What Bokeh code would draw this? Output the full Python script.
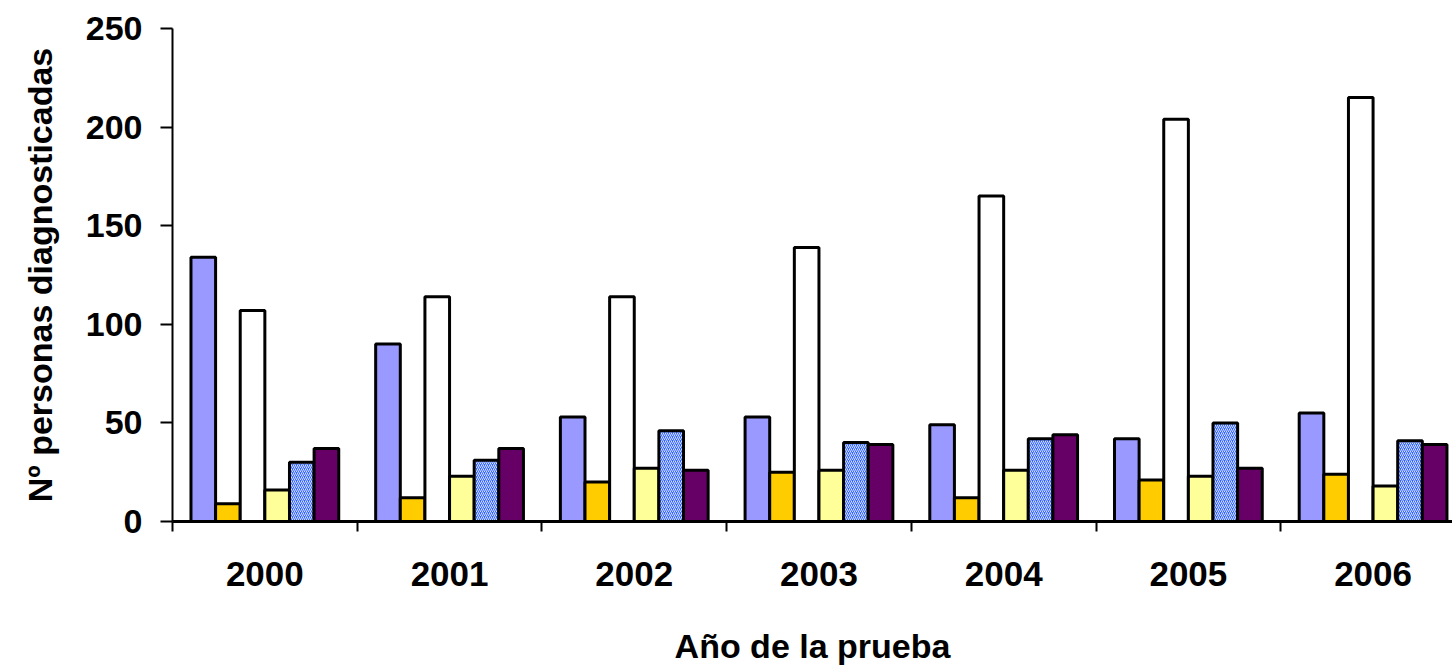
from bokeh.plotting import figure
from bokeh.models import FixedTicker, Range1d
from bokeh.embed import file_html
from bokeh.resources import INLINE

years = ["2000", "2001", "2002", "2003", "2004", "2005", "2006"]
serie_1 = [134, 90, 53, 53, 49, 42, 55]          # lavender
serie_2 = [9, 12, 20, 25, 12, 21, 24]            # gold
serie_3 = [107, 114, 114, 139, 165, 204, 215]    # white
serie_4 = [16, 23, 27, 26, 26, 23, 18]           # light yellow
serie_5 = [30, 31, 46, 40, 42, 50, 41]           # hatched blue
serie_6 = [37, 37, 26, 39, 44, 27, 39]           # purple
y_ticks = [0, 50, 100, 150, 200, 250]

series = [serie_1, serie_2, serie_3, serie_4, serie_5, serie_6]
fills = ["#9999FF", "#FFCC00", "#FFFFFF", "#FFFF99", "#3366FF", "#660066"]

FONT = "Liberation Sans"

p = figure(width=1452, height=667,
           x_range=Range1d(0, 6.93), y_range=Range1d(0, 250),
           output_backend="svg", toolbar_location=None,
           min_border_left=172, min_border_top=28,
           min_border_bottom=146, min_border_right=0)
p.outline_line_color = None
p.background_fill_color = "white"

n = len(series)
bw = 0.8 / n
centers = [i + 0.5 for i in range(len(years))]
for k, (vals, col) in enumerate(zip(series, fills)):
    xs = [c + (k - (n - 1) / 2) * bw for c in centers]
    kw = {}
    if k == 4:
        kw = dict(hatch_pattern="right_diagonal_line", hatch_color="white",
                  hatch_scale=4, hatch_weight=0.8)
    p.vbar(x=xs, top=vals, bottom=0, width=bw, fill_color=col,
           line_color="black", line_width=3, **kw)

# grid: only top line
p.xgrid.visible = False
p.ygrid.ticker = FixedTicker(ticks=[250])
p.ygrid.grid_line_color = "#808080"
p.ygrid.grid_line_width = 2

# x axis
xa = p.xaxis[0]
xa.ticker = FixedTicker(ticks=centers, minor_ticks=list(range(0, 8)))
xa.major_label_overrides = {c: y for c, y in zip(centers, years)}
xa.major_tick_line_color = None
xa.major_tick_out = 0
xa.major_tick_in = 0
xa.minor_tick_line_color = "black"
xa.minor_tick_line_width = 2
xa.minor_tick_out = 10
xa.minor_tick_in = 0
xa.axis_line_color = "black"
xa.axis_line_width = 3
xa.major_label_standoff = 30
xa.major_label_text_font = FONT
xa.major_label_text_font_style = "bold"
xa.major_label_text_font_size = "35px"
xa.major_label_text_color = "black"
xa.axis_label = "Año de la prueba"
xa.axis_label_text_font = FONT
xa.axis_label_text_font_style = "bold"
xa.axis_label_text_font_size = "34px"
xa.axis_label_text_color = "black"
xa.axis_label_standoff = 38

# y axis
ya = p.yaxis[0]
ya.ticker = FixedTicker(ticks=y_ticks)
ya.minor_tick_line_color = None
ya.major_tick_out = 12
ya.major_tick_in = 0
ya.major_tick_line_width = 2
ya.major_tick_line_color = "black"
ya.axis_line_color = "black"
ya.axis_line_width = 2
ya.major_label_standoff = 18
ya.major_label_text_font = FONT
ya.major_label_text_font_style = "bold"
ya.major_label_text_font_size = "34px"
ya.major_label_text_color = "black"
ya.axis_label = "Nº personas diagnosticadas"
ya.axis_label_text_font = FONT
ya.axis_label_text_font_style = "bold"
ya.axis_label_text_font_size = "34px"
ya.axis_label_text_color = "black"
ya.axis_label_standoff = 24

open("out.html", "w").write(file_html(p, INLINE))
